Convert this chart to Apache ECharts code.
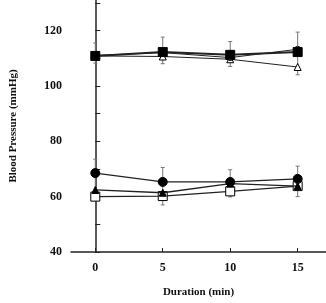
<!DOCTYPE html>
<html>
<head>
<meta charset="utf-8">
<script src="https://cdn.jsdelivr.net/npm/echarts@6/dist/echarts.min.js"></script>
<style>
  html, body { margin: 0; padding: 0; background: #fff; }
  #main { width: 326px; height: 303px; }
</style>
</head>
<body>
<div id="main"></div>
<script>
// 时间点 (min)
var durations = [0, 5, 10, 15]
// 上组 (收缩压)
var filledSquare = [110.8, 112.2, 111.2, 112.2]
var openCircle = [111.0, 112.0, 110.2, 113.2]
var openTriangle = [110.8, 110.6, 109.6, 106.8]
var upperErrLow = [108.2, 108.0, 107.0, 104.0]
var upperErrHigh = [115.5, 117.6, 116.0, 119.4]
// 下组 (舒张压)
var filledCircle = [68.5, 65.3, 65.3, 66.4]
var filledTriangle = [62.4, 61.4, 64.7, 63.8]
var openSquare = [60.0, 60.2, 61.9, 63.8]
var lowerErrLow = [58.7, 57.0, 59.9, 60.0]
var lowerErrHigh = [73.5, 70.5, 69.7, 71.0]
// 刻度
var yTicks = [40, 50, 60, 70, 80, 90, 100, 110, 120, 130]
var yLabels = [40, 60, 80, 100, 120]
var xTicks = [0, 5, 10, 15]

function pairs (vals) {
  return durations.map(function (d, i) { return [d, vals[i]] })
}

function errData (lo, hi) {
  return durations.map(function (d, i) { return [d, lo[i], hi[i]] })
}

function renderErr (params, api) {
  var top = api.coord([api.value(0), api.value(2)])
  var bot = api.coord([api.value(0), api.value(1)])
  var w = 2
  return {
    type: 'group',
    children: [
      { type: 'line', shape: { x1: top[0], y1: top[1], x2: bot[0], y2: bot[1] }, style: { stroke: '#777', lineWidth: 1 } },
      { type: 'line', shape: { x1: top[0] - w, y1: top[1], x2: top[0] + w, y2: top[1] }, style: { stroke: '#777', lineWidth: 1 } },
      { type: 'line', shape: { x1: bot[0] - w, y1: bot[1], x2: bot[0] + w, y2: bot[1] }, style: { stroke: '#777', lineWidth: 1 } }
    ]
  }
}

var serif = 'Liberation Serif'

function lineSeries (vals, symbol, size, filled, width) {
  return {
    type: 'line',
    data: pairs(vals),
    symbol: symbol,
    symbolSize: size,
    showAllSymbol: true,
    z: filled ? 4 : 3,
    lineStyle: { color: '#222', width: width },
    itemStyle: {
      color: filled ? '#000' : '#fff',
      borderColor: '#000',
      borderWidth: 1
    },
    animation: false
  }
}

var myChart = echarts.init(document.getElementById('main'))
var option = {
  backgroundColor: '#fff',
  animation: false,
  grid: { left: 68, right: 0, top: 0, bottom: 45 },
  xAxis: {
    type: 'value',
    min: -1.8,
    max: 17.1,
    name: 'Duration (min)',
    nameLocation: 'middle',
    nameGap: 35,
    nameTextStyle: { fontFamily: serif, fontWeight: 'bold', fontSize: 11, color: '#111' },
    axisLine: { lineStyle: { color: '#222', width: 1.5 } },
    axisTick: { inside: true, length: 4, customValues: xTicks, lineStyle: { color: '#222' } },
    axisLabel: { customValues: xTicks, margin: 10, fontFamily: serif, fontWeight: 'bold', fontSize: 12, color: '#111' },
    splitLine: { show: false }
  },
  yAxis: {
    type: 'value',
    min: 40,
    max: 131,
    name: 'Blood Pressure (mmHg)',
    nameLocation: 'middle',
    nameGap: 52,
    nameTextStyle: { fontFamily: serif, fontWeight: 'bold', fontSize: 11, color: '#111' },
    axisLine: { show: true, lineStyle: { color: '#222', width: 1.5 } },
    axisTick: { show: true, inside: true, length: 5, customValues: yTicks, lineStyle: { color: '#222' } },
    axisLabel: { customValues: yLabels, margin: 9, fontFamily: serif, fontWeight: 'bold', fontSize: 12, color: '#111' },
    splitLine: { show: false }
  },
  series: [
    { type: 'custom', renderItem: renderErr, data: errData(upperErrLow, upperErrHigh), z: 1 },
    { type: 'custom', renderItem: renderErr, data: errData(lowerErrLow, lowerErrHigh), z: 1 },
    lineSeries(openTriangle, 'triangle', 7, false, 1),
    lineSeries(openCircle, 'circle', 6, false, 1),
    lineSeries(filledSquare, 'rect', 9, true, 2),
    lineSeries(filledCircle, 'circle', 9, true, 1.3),
    lineSeries(filledTriangle, 'triangle', 7, true, 1.3),
    lineSeries(openSquare, 'rect', 9, false, 1.3)
  ]
}
myChart.setOption(option)
</script>
</body>
</html>
